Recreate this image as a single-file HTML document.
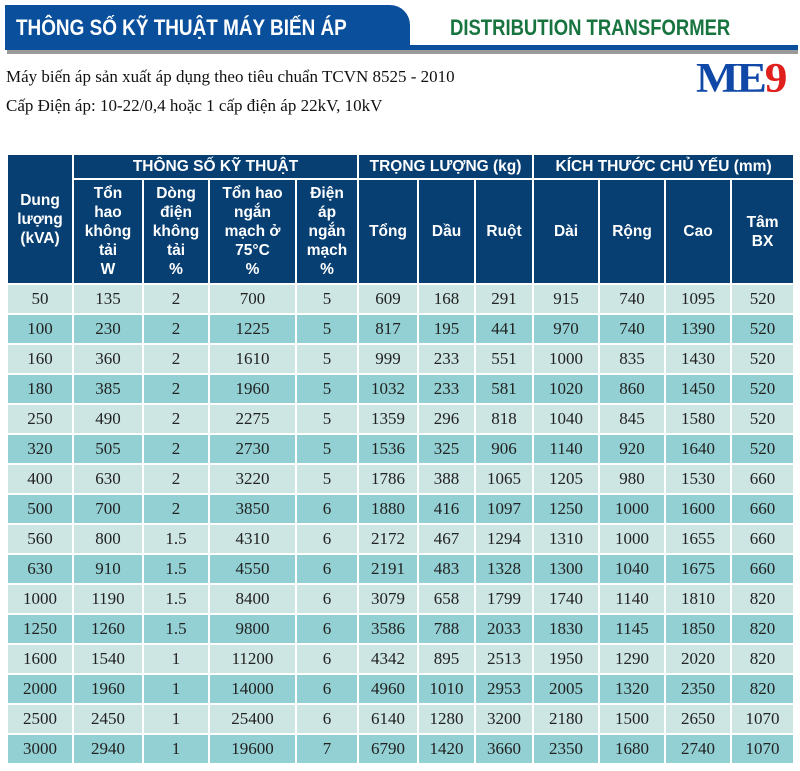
<!DOCTYPE html>
<html><head><meta charset="utf-8"><style>
body{margin:0;width:800px;height:771px;background:#fff;position:relative;overflow:hidden;font-family:"Liberation Sans",sans-serif}
.tab{position:absolute;left:5px;top:5px;width:405px;height:45px;background:#0a4f9c;border-top-right-radius:20px}
.line{position:absolute;left:5px;top:45px;width:793px;height:5px;background:#0a4f9c}
.shadow{position:absolute;left:7px;top:50px;width:791px;height:4px;background:#9a9a9a}
.t1{position:absolute;left:16px;top:15px;color:#fff;font-weight:bold;font-size:22px;white-space:nowrap;transform:scaleX(.86);transform-origin:left}
.t2{position:absolute;left:450px;top:15px;color:#17743f;font-weight:bold;font-size:22px;white-space:nowrap;transform:scaleX(.84);transform-origin:left}
.sub{position:absolute;left:6px;font-family:"Liberation Serif",serif;font-size:17px;color:#111;white-space:nowrap}
.logo{position:absolute;left:696px;top:55px;font-family:"Liberation Serif",serif;font-weight:bold;font-size:42px;letter-spacing:-2px;transform:scaleX(1.08);transform-origin:left}
table{position:absolute;left:6px;top:153px;border-collapse:collapse;table-layout:fixed;width:787px}
td,th{border:2px solid #fff;padding:0;text-align:center}
th{background:#073f72;color:#fff;font-weight:bold;font-size:15.5px;line-height:19px}
td{font-family:"Liberation Serif",serif;font-size:17px;color:#222}
tr.a,tr.b{height:30px}
tr.a td{background:#cde6e3}
tr.b td{background:#93d0d3}
</style></head><body>
<div class="tab"></div><div class="line"></div><div class="shadow"></div>
<div class="t1">THÔNG SỐ KỸ THUẬT MÁY BIẾN ÁP</div>
<div class="t2">DISTRIBUTION TRANSFORMER</div>
<div class="sub" style="top:67px">Máy biến áp sản xuất áp dụng theo tiêu chuẩn TCVN 8525 - 2010</div>
<div class="sub" style="top:96px">Cấp Điện áp: 10-22/0,4 hoặc 1 cấp điện áp 22kV, 10kV</div>
<div class="logo"><span style="color:#1048a8">ME</span><span style="color:#e0201c">9</span></div>
<table>
<colgroup><col style="width:66px"><col style="width:70px"><col style="width:66px"><col style="width:87px"><col style="width:62px"><col style="width:60px"><col style="width:57px"><col style="width:58px"><col style="width:66px"><col style="width:66px"><col style="width:66px"><col style="width:63px"></colgroup>
<tr style="height:25px"><th rowspan="2">Dung<br>lượng<br>(kVA)</th><th colspan="4">THÔNG SỐ KỸ THUẬT</th><th colspan="3">TRỌNG LƯỢNG (kg)</th><th colspan="4">KÍCH THƯỚC CHỦ YẾU (mm)</th></tr>
<tr style="height:105px"><th>Tổn<br>hao<br>không<br>tải<br>W</th><th>Dòng<br>điện<br>không<br>tải<br>%</th><th>Tổn hao<br>ngắn<br>mạch ở<br>75°C<br>%</th><th>Điện<br>áp<br>ngắn<br>mạch<br>%</th><th>Tổng</th><th>Dầu</th><th>Ruột</th><th>Dài</th><th>Rộng</th><th>Cao</th><th>Tâm<br>BX</th></tr>
<tr class="a"><td>50</td><td>135</td><td>2</td><td>700</td><td>5</td><td>609</td><td>168</td><td>291</td><td>915</td><td>740</td><td>1095</td><td>520</td></tr>
<tr class="b"><td>100</td><td>230</td><td>2</td><td>1225</td><td>5</td><td>817</td><td>195</td><td>441</td><td>970</td><td>740</td><td>1390</td><td>520</td></tr>
<tr class="a"><td>160</td><td>360</td><td>2</td><td>1610</td><td>5</td><td>999</td><td>233</td><td>551</td><td>1000</td><td>835</td><td>1430</td><td>520</td></tr>
<tr class="b"><td>180</td><td>385</td><td>2</td><td>1960</td><td>5</td><td>1032</td><td>233</td><td>581</td><td>1020</td><td>860</td><td>1450</td><td>520</td></tr>
<tr class="a"><td>250</td><td>490</td><td>2</td><td>2275</td><td>5</td><td>1359</td><td>296</td><td>818</td><td>1040</td><td>845</td><td>1580</td><td>520</td></tr>
<tr class="b"><td>320</td><td>505</td><td>2</td><td>2730</td><td>5</td><td>1536</td><td>325</td><td>906</td><td>1140</td><td>920</td><td>1640</td><td>520</td></tr>
<tr class="a"><td>400</td><td>630</td><td>2</td><td>3220</td><td>5</td><td>1786</td><td>388</td><td>1065</td><td>1205</td><td>980</td><td>1530</td><td>660</td></tr>
<tr class="b"><td>500</td><td>700</td><td>2</td><td>3850</td><td>6</td><td>1880</td><td>416</td><td>1097</td><td>1250</td><td>1000</td><td>1600</td><td>660</td></tr>
<tr class="a"><td>560</td><td>800</td><td>1.5</td><td>4310</td><td>6</td><td>2172</td><td>467</td><td>1294</td><td>1310</td><td>1000</td><td>1655</td><td>660</td></tr>
<tr class="b"><td>630</td><td>910</td><td>1.5</td><td>4550</td><td>6</td><td>2191</td><td>483</td><td>1328</td><td>1300</td><td>1040</td><td>1675</td><td>660</td></tr>
<tr class="a"><td>1000</td><td>1190</td><td>1.5</td><td>8400</td><td>6</td><td>3079</td><td>658</td><td>1799</td><td>1740</td><td>1140</td><td>1810</td><td>820</td></tr>
<tr class="b"><td>1250</td><td>1260</td><td>1.5</td><td>9800</td><td>6</td><td>3586</td><td>788</td><td>2033</td><td>1830</td><td>1145</td><td>1850</td><td>820</td></tr>
<tr class="a"><td>1600</td><td>1540</td><td>1</td><td>11200</td><td>6</td><td>4342</td><td>895</td><td>2513</td><td>1950</td><td>1290</td><td>2020</td><td>820</td></tr>
<tr class="b"><td>2000</td><td>1960</td><td>1</td><td>14000</td><td>6</td><td>4960</td><td>1010</td><td>2953</td><td>2005</td><td>1320</td><td>2350</td><td>820</td></tr>
<tr class="a"><td>2500</td><td>2450</td><td>1</td><td>25400</td><td>6</td><td>6140</td><td>1280</td><td>3200</td><td>2180</td><td>1500</td><td>2650</td><td>1070</td></tr>
<tr class="b"><td>3000</td><td>2940</td><td>1</td><td>19600</td><td>7</td><td>6790</td><td>1420</td><td>3660</td><td>2350</td><td>1680</td><td>2740</td><td>1070</td></tr>
</table>
</body></html>
